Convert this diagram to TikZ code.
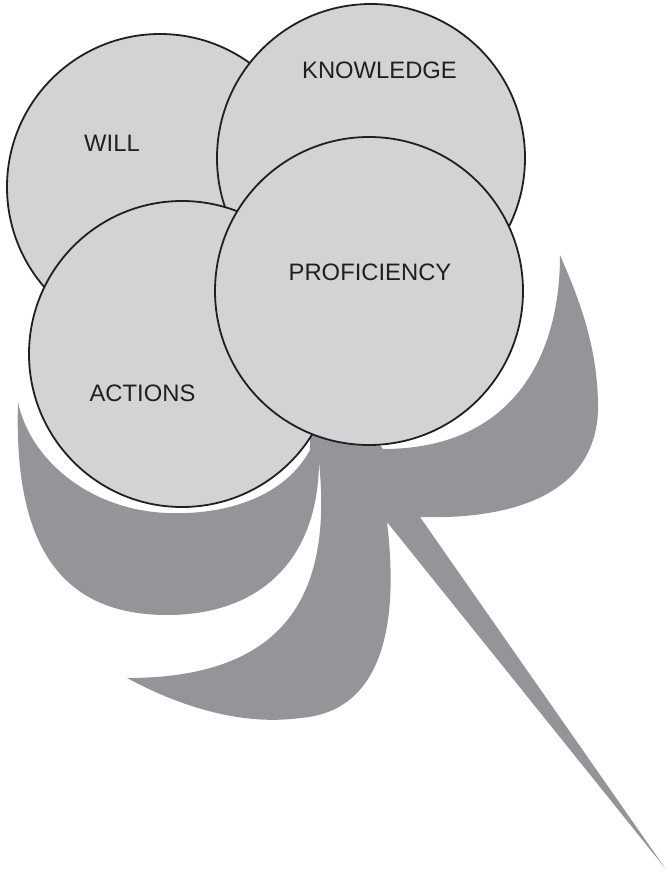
\documentclass[tikz,border=0pt]{standalone}
\usepackage{fontspec}
\setmainfont{Liberation Sans}
\definecolor{ringfill}{HTML}{D1D3D4}
\definecolor{leafgray}{HTML}{939598}
\definecolor{inkc}{HTML}{231F20}
\begin{document}
\begin{tikzpicture}[x=1pt,y=-1pt,
  ring/.style={circle, draw=inkc, line width=1.8pt, fill=ringfill, minimum size=#1, inner sep=0pt},
  lbl/.style={inner sep=0pt, text=inkc, font=\fontsize{23.8}{28}\selectfont}]
\useasboundingbox (0,0) rectangle (665,875);
% grey leaves and tail
\fill[leafgray]
  (18,402) .. controls (14,530) and (50,615) .. (167,615)
  .. controls (260,615) and (318,560) .. (319,462)
  .. controls (332,590) and (290,678) .. (127,678)
  .. controls (190,712) and (250,725) .. (300,718)
  .. controls (380,712) and (400,630) .. (387,522)
  -- (665,868) -- (420,517)
  .. controls (520,520) and (600,490) .. (598,403)
  .. controls (597,340) and (575,290) .. (560,255)
  .. controls (560,360) and (510,449) .. (383,449)
  -- (369,430) -- (310,430) -- (310,450)
  .. controls (280,505) and (210,515) .. (167,513)
  .. controls (90,510) and (30,460) .. (18,402)
  -- cycle;
% circles
\node[ring=306pt] (will) at (160,187) {};
\node[ring=308pt] (knowledge) at (371,158) {};
\node[ring=306pt] (actions) at (182,354) {};
\node[ring=308pt] (proficiency) at (369,291) {};
% labels
\node[lbl] (willtext) at (112,143.5) {WILL};
\node[lbl] (knowledgetext) at (379.5,70.5) {KNOWLEDGE};
\node[lbl] (proficiencytext) at (370,272.5) {PROFICIENCY};
\node[lbl] (actionstext) at (142.5,393.5) {ACTIONS};
\end{tikzpicture}
\end{document}
